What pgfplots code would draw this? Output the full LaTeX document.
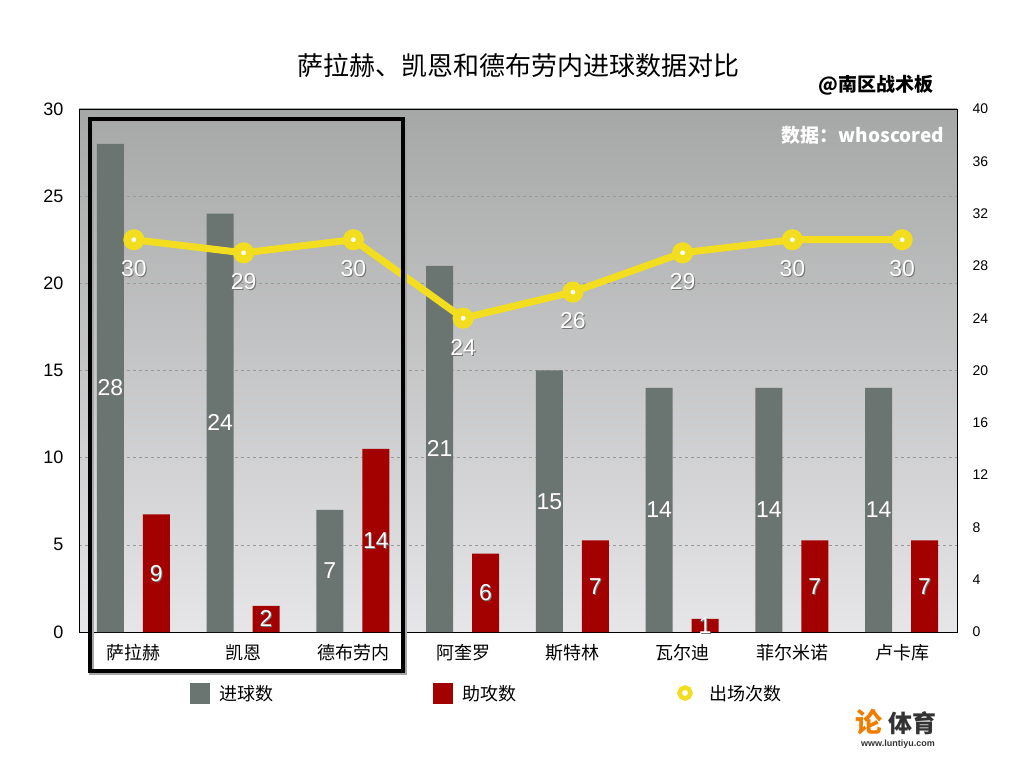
\documentclass[border=0pt]{standalone}
\usepackage{pgfplots}
\pgfplotsset{compat=1.18}
\usepackage{pgfplotstable}
\usepackage{fontspec}
\setmainfont{Liberation Sans}
\newfontfamily\cjk{Noto Sans CJK SC}
\definecolor{Goal}{HTML}{6A7471}
\definecolor{Assist}{HTML}{A30000}
\definecolor{Apps}{HTML}{F2DE1F}
\definecolor{BgTop}{HTML}{A6A7A7}
\definecolor{BgBot}{HTML}{E6E6E8}
\definecolor{Logo}{HTML}{F07D00}
\pgfplotsset{/pgf/number format/assume math mode=true,
  vals/.style n args={4}{draw=none,mark=none,forget plot,nodes near coords,point meta=explicit,
    every node near coord/.append style={anchor=center,font=\fontsize{23}{25}\selectfont,text=#1,xshift=#2,yshift=#3},
    /pgfplots/table/meta=#4},
  frame/.style={at={(79pt,136pt)},anchor=south west,scale only axis,width=878pt,height=523pt,
    xmin=-0.5,xmax=7.5,major tick length=0pt,axis line style={black,line width=0.8pt}}}
\pgfplotstableread{
x g a p
0 28 9 30
1 24 2 29
2 7 14 30
3 21 6 24
4 15 7 26
5 14 1 29
6 14 7 30
7 14 7 30
}\stats
\begin{document}
\begin{tikzpicture}
\path[use as bounding box] (0,0) rectangle (1024pt,768pt);
% left axis: goals
\begin{axis}[frame,ymin=0,ymax=30,ytick={0,5,...,30},xtick={0,...,7},
  xticklabels={萨拉赫,凯恩,德布劳内,阿奎罗,斯特林,瓦尔迪,菲尔米诺,卢卡库},
  xticklabel style={font=\cjk\fontsize{18}{20}\selectfont,yshift=-9pt},
  yticklabel style={font=\fontsize{18}{20}\selectfont,xshift=-12pt},
  ymajorgrids,grid style={dashed,black!40,line width=0.5pt},
  axis background/.style={top color=BgTop,bottom color=BgBot}]
\addplot[ybar,bar width=27pt,bar shift=-23.5pt,fill=Goal,draw=none] table[x=x,y=g]{\stats};
\addplot[vals={black!55}{-22.5pt}{-1pt}{g}] table[x=x,y expr=\thisrow{g}/2]{\stats};
\addplot[vals={white}{-23.5pt}{0pt}{g}] table[x=x,y expr=\thisrow{g}/2]{\stats};
\end{axis}
% right axis: assists and appearances
\begin{axis}[frame,ymin=0,ymax=40,ytick={0,4,...,40},axis x line=none,axis y line*=right,
  yticklabel style={font=\fontsize{14}{16}\selectfont,xshift=12pt}]
\addplot[ybar,bar width=27pt,bar shift=22.5pt,fill=Assist,draw=none] table[x=x,y=a]{\stats};
\addplot[vals={black!55}{23.5pt}{-1pt}{a}] table[x=x,y expr=\thisrow{a}/2]{\stats};
\addplot[vals={white}{22.5pt}{0pt}{a}] table[x=x,y expr=\thisrow{a}/2]{\stats};
\addplot[Apps,line width=7pt,mark=*,mark size=6.5pt,mark options={fill=white,draw=Apps,line width=8pt}] table[x=x,y=p]{\stats};
\addplot[vals={black!55}{1pt}{-30pt}{p}] table[x=x,y=p]{\stats};
\addplot[vals={white}{0pt}{-29pt}{p}] table[x=x,y=p]{\stats};
\end{axis}
% highlight frame
\draw[line width=4.5pt,black!35] (91.5pt,95.5pt) rectangle (404.5pt,647.5pt);
\draw[line width=4.5pt,black] (90pt,97pt) rectangle (403pt,649pt);
% titles
\node[font=\cjk\fontsize{26}{30}\selectfont] at (518pt,702pt) {萨拉赫、凯恩和德布劳内进球数据对比};
\node[font=\cjk\bfseries\fontsize{19}{22}\selectfont] at (876pt,683pt) {@南区战术板};
\node[text=white,font=\cjk\bfseries\fontsize{19}{22}\selectfont] at (863pt,633pt) {数据：whoscored};
% legend
\fill[Goal] (190pt,64pt) rectangle (210pt,85pt);
\node[anchor=west,font=\cjk\fontsize{18}{20}\selectfont] at (216pt,74pt) {进球数};
\fill[Assist] (433pt,64pt) rectangle (453pt,85pt);
\node[anchor=west,font=\cjk\fontsize{18}{20}\selectfont] at (459pt,74pt) {助攻数};
\draw[Apps,line width=4.5pt,fill=white] (685pt,75pt) circle (5.5pt);
\node[anchor=west,font=\cjk\fontsize{18}{20}\selectfont] at (706pt,74pt) {出场次数};
% logo
\node[text=Logo,font=\cjk\bfseries\fontsize{27}{29}\selectfont] at (869pt,46pt) {论};
\node[text=black!80,font=\cjk\bfseries\fontsize{24}{26}\selectfont] at (912pt,45pt) {体育};
\node[text=black!80,font=\bfseries\fontsize{9}{10}\selectfont] at (898pt,24pt) {www.luntiyu.com};
\end{tikzpicture}
\end{document}
